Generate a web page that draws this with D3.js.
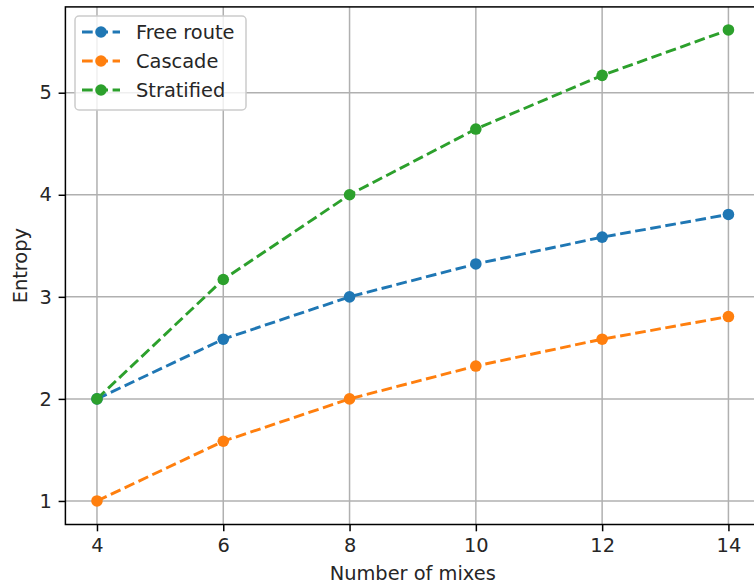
<!DOCTYPE html>
<html><head><meta charset="utf-8">
<script src="https://cdn.jsdelivr.net/npm/d3@7"></script>
<style>body{margin:0;background:#fff;}svg{display:block;font-family:"DejaVu Sans",sans-serif;}</style>
</head><body>
<svg id="c" width="754" height="587"></svg>
<script>
const mixes = [4, 6, 8, 10, 12, 14];
const freeRoute = [2.0, 2.585, 3.0, 3.322, 3.585, 3.807];
const cascade = [1.0, 1.585, 2.0, 2.322, 2.585, 2.807];
const stratified = [2.0, 3.17, 4.0, 4.644, 5.17, 5.615];
const seriesNames = ["Free route", "Cascade", "Stratified"];
const seriesColors = ["#1f77b4", "#ff7f0e", "#2ca02c"];
const xTicks = [4, 6, 8, 10, 12, 14];
const yTicks = [1, 2, 3, 4, 5];
const xLabel = "Number of mixes";
const yLabel = "Entropy";

const svg = d3.select("#c");
const L = 65.4, R = 760, T = 6.9, B = 524.5;
const x = d3.scaleLinear().domain([3.5, 14.5]).range([L, R]);
const y = d3.scaleLinear().domain([0.7693, 5.8408]).range([B, T]);
const fs = 19.4;

// grid
const g = svg.append("g");
g.selectAll(".gx").data(xTicks).enter().append("line")
  .attr("x1", d => x(d)).attr("x2", d => x(d)).attr("y1", T).attr("y2", B)
  .attr("stroke", "#b0b0b0").attr("stroke-width", 1.5);
g.selectAll(".gy").data(yTicks).enter().append("line")
  .attr("x1", L).attr("x2", R).attr("y1", d => y(d)).attr("y2", d => y(d))
  .attr("stroke", "#b0b0b0").attr("stroke-width", 1.5);

// series
const all = [freeRoute, cascade, stratified];
const line = d3.line().x((d, i) => x(mixes[i])).y(d => y(d));
all.forEach((vals, k) => {
  svg.append("path").attr("d", line(vals)).attr("fill", "none")
    .attr("stroke", seriesColors[k]).attr("stroke-width", 2.9)
    .attr("stroke-dasharray", "10.7,4.6");
});
all.forEach((vals, k) => {
  svg.selectAll(null).data(vals).enter().append("circle")
    .attr("cx", (d, i) => x(mixes[i])).attr("cy", d => y(d)).attr("r", 5.8)
    .attr("fill", seriesColors[k]);
});

// axes
const xAxis = svg.append("g").attr("transform", `translate(0,${B})`)
  .call(d3.axisBottom(x).tickValues(xTicks).tickSize(6.8).tickPadding(6.8).tickFormat(d3.format("d")));
const yAxis = svg.append("g").attr("transform", `translate(${L},0)`)
  .call(d3.axisLeft(y).tickValues(yTicks).tickSize(6.8).tickPadding(6.8).tickFormat(d3.format("d")));
[xAxis, yAxis].forEach(a => {
  a.select(".domain").remove();
  a.selectAll("line").attr("stroke", "#000").attr("stroke-width", 1.5);
  a.selectAll("text").attr("font-size", fs).attr("fill", "#262626").attr("font-family", "DejaVu Sans");
});
// spines (left, bottom, top, right beyond view)
svg.append("rect").attr("x", L).attr("y", T).attr("width", R - L).attr("height", B - T)
  .attr("fill", "none").attr("stroke", "#000").attr("stroke-width", 1.5);

// labels
svg.append("text").attr("x", (L + R) / 2).attr("y", 580).attr("text-anchor", "middle")
  .attr("font-size", fs).attr("fill", "#262626").text(xLabel);
svg.append("text").attr("transform", `translate(27,${(T + B) / 2}) rotate(-90)`).attr("text-anchor", "middle")
  .attr("font-size", fs).attr("fill", "#262626").text(yLabel);

// legend
const lg = svg.append("g");
lg.append("rect").attr("x", 75).attr("y", 16).attr("width", 171).attr("height", 94).attr("rx", 4)
  .attr("fill", "#fff").attr("fill-opacity", 0.8).attr("stroke", "#cccccc").attr("stroke-width", 1.5);
seriesNames.forEach((name, k) => {
  const cy = 32 + k * 29;
  lg.append("line").attr("x1", 82).attr("x2", 120).attr("y1", cy).attr("y2", cy)
    .attr("stroke", seriesColors[k]).attr("stroke-width", 2.9).attr("stroke-dasharray", "10.7,4.6");
  lg.append("circle").attr("cx", 101).attr("cy", cy).attr("r", 5.8).attr("fill", seriesColors[k]);
  lg.append("text").attr("x", 136).attr("y", cy).attr("dy", "0.35em")
    .attr("font-size", fs).attr("fill", "#262626").text(name);
});
</script>
</body></html>
